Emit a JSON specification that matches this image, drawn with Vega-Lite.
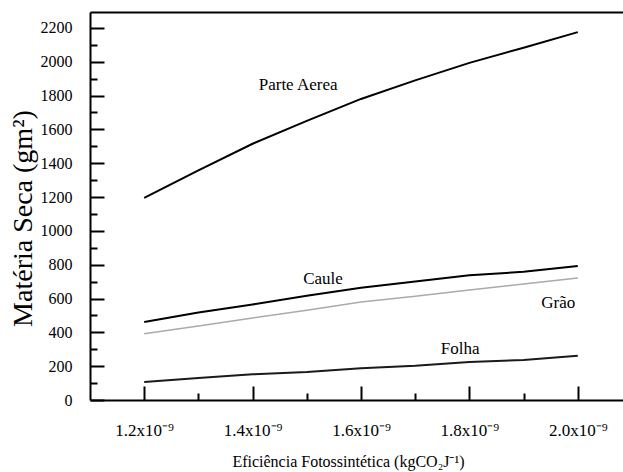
{
  "$schema": "https://vega.github.io/schema/vega-lite/v6.json",
  "width": 533,
  "height": 388,
  "autosize": {"type": "none"},
  "padding": {"left": 90, "top": 12, "right": 0, "bottom": 72},
  "background": "white",
  "config": {"view": {"stroke": null}, "font": "Liberation Serif", "axis": {"grid": false}},
  "datasets": {
    "lines": [
      {"serie": "Parte Aerea", "x": 1.2, "y": 1195},
      {"serie": "Parte Aerea", "x": 1.3, "y": 1357},
      {"serie": "Parte Aerea", "x": 1.4, "y": 1515},
      {"serie": "Parte Aerea", "x": 1.5, "y": 1650},
      {"serie": "Parte Aerea", "x": 1.6, "y": 1780},
      {"serie": "Parte Aerea", "x": 1.7, "y": 1890},
      {"serie": "Parte Aerea", "x": 1.8, "y": 1993},
      {"serie": "Parte Aerea", "x": 1.9, "y": 2083},
      {"serie": "Parte Aerea", "x": 2.0, "y": 2175},
      {"serie": "Caule", "x": 1.2, "y": 461},
      {"serie": "Caule", "x": 1.3, "y": 517},
      {"serie": "Caule", "x": 1.4, "y": 565},
      {"serie": "Caule", "x": 1.5, "y": 617},
      {"serie": "Caule", "x": 1.6, "y": 663},
      {"serie": "Caule", "x": 1.7, "y": 700},
      {"serie": "Caule", "x": 1.8, "y": 737},
      {"serie": "Caule", "x": 1.9, "y": 758},
      {"serie": "Caule", "x": 2.0, "y": 792},
      {"serie": "Grão", "x": 1.2, "y": 391},
      {"serie": "Grão", "x": 1.3, "y": 438},
      {"serie": "Grão", "x": 1.4, "y": 485},
      {"serie": "Grão", "x": 1.5, "y": 531},
      {"serie": "Grão", "x": 1.6, "y": 579},
      {"serie": "Grão", "x": 1.7, "y": 614},
      {"serie": "Grão", "x": 1.8, "y": 650},
      {"serie": "Grão", "x": 1.9, "y": 686},
      {"serie": "Grão", "x": 2.0, "y": 721},
      {"serie": "Folha", "x": 1.2, "y": 107},
      {"serie": "Folha", "x": 1.3, "y": 130},
      {"serie": "Folha", "x": 1.4, "y": 152},
      {"serie": "Folha", "x": 1.5, "y": 166},
      {"serie": "Folha", "x": 1.6, "y": 188},
      {"serie": "Folha", "x": 1.7, "y": 202},
      {"serie": "Folha", "x": 1.8, "y": 224},
      {"serie": "Folha", "x": 1.9, "y": 237},
      {"serie": "Folha", "x": 2.0, "y": 261}
    ],
    "labels": [
      {"label": "Parte Aerea", "x": 1.484, "y": 1864},
      {"label": "Caule", "x": 1.53, "y": 716},
      {"label": "Grão", "x": 1.964, "y": 574},
      {"label": "Folha", "x": 1.783, "y": 302}
    ]
  },
  "layer": [
    {
      "data": {"name": "lines"},
      "transform": [{"filter": "datum.serie === 'Parte Aerea'"}],
      "mark": {"type": "line", "strokeWidth": 2, "color": "#000000"},
      "encoding": {
        "x": {
          "field": "x",
          "type": "quantitative",
          "scale": {"domain": [1.1, 2.0834], "nice": false, "zero": false},
          "axis": {
            "orient": "bottom",
            "values": [1.2, 1.4, 1.6, 1.8, 2.0],
            "ticks": false,
            "tickSize": 0,
            "domainColor": "black",
            "domainWidth": 2,
            "labelExpr": "format(datum.value, '.1f') + 'x10⁻⁹'",
            "labelFont": "Liberation Serif",
            "labelFontSize": 17,
            "labelColor": "black",
            "labelPadding": 22,
            "labelFlush": false,
            "labelOverlap": false,
            "title": "Eficiência Fotossintética (kgCO₂J⁻¹)",
            "titleFont": "Liberation Serif",
            "titleFontSize": 16,
            "titleFontWeight": "normal",
            "titleColor": "black",
            "titleX": 258,
            "titleY": 61,
            "titleBaseline": "middle",
            "titleAlign": "center"
          }
        },
        "y": {
          "field": "y",
          "type": "quantitative",
          "scale": {"domain": [0, 2294], "nice": false},
          "axis": {
            "orient": "left",
            "values": [0, 200, 400, 600, 800, 1000, 1200, 1400, 1600, 1800, 2000, 2200],
            "ticks": false,
            "tickSize": 0,
            "domainColor": "black",
            "domainWidth": 2,
            "labelExpr": "format(datum.value, 'd')",
            "labelFont": "Liberation Serif",
            "labelFontSize": 16,
            "labelColor": "black",
            "labelPadding": 18,
            "labelOverlap": false,
            "labelFlush": false,
            "title": "Matéria Seca (gm²)",
            "titleFont": "Liberation Serif",
            "titleFontSize": 28,
            "titleFontWeight": "normal",
            "titleColor": "black",
            "titleAngle": 270,
            "titleX": -67,
            "titleY": 206,
            "titleBaseline": "middle",
            "titleAlign": "center"
          }
        }
      }
    },
    {
      "data": {"name": "lines"},
      "transform": [{"filter": "datum.serie === 'Caule' || datum.serie === 'Folha'"}],
      "mark": {"type": "line", "strokeWidth": 2},
      "encoding": {
        "x": {
          "field": "x",
          "type": "quantitative",
          "scale": {"domain": [1.1, 2.0834], "nice": false, "zero": false},
          "axis": {"orient": "bottom", "offset": -7, "values": [1.3, 1.5, 1.7, 1.9], "labels": false, "domain": false, "title": null, "tickSize": 7, "tickWidth": 2, "tickColor": "black"}
        },
        "y": {
          "field": "y",
          "type": "quantitative",
          "scale": {"domain": [0, 2294], "nice": false},
          "axis": {"orient": "left", "offset": -7, "values": [100, 300, 500, 700, 900, 1100, 1300, 1500, 1700, 1900, 2100], "labels": false, "domain": false, "title": null, "tickSize": 7, "tickWidth": 2, "tickColor": "black"}
        },
        "color": {
          "field": "serie",
          "type": "nominal",
          "scale": {"domain": ["Caule", "Folha"], "range": ["#000000", "#1a1a1a"]},
          "legend": null
        }
      }
    },
    {
      "data": {"name": "lines"},
      "transform": [{"filter": "datum.serie === 'Grão'"}],
      "mark": {"type": "line", "strokeWidth": 1.5, "color": "#aaaaaa"},
      "encoding": {
        "x": {
          "field": "x",
          "type": "quantitative",
          "scale": {"domain": [1.1, 2.0834], "nice": false, "zero": false},
          "axis": {"orient": "top", "labels": false, "ticks": false, "title": null, "domainColor": "black", "domainWidth": 2}
        },
        "y": {"field": "y", "type": "quantitative", "scale": {"domain": [0, 2294], "nice": false}, "axis": null}
      }
    },
    {
      "data": {"name": "labels"},
      "mark": {"type": "text", "font": "Liberation Serif", "fontSize": 17, "color": "black", "align": "center", "baseline": "middle"},
      "encoding": {
        "x": {
          "field": "x",
          "type": "quantitative",
          "scale": {"domain": [1.1, 2.0834], "nice": false, "zero": false},
          "axis": {"orient": "bottom", "offset": -14, "values": [1.2, 1.4, 1.6, 1.8, 2.0], "labels": false, "domain": false, "title": null, "tickSize": 14, "tickWidth": 2, "tickColor": "black"}
        },
        "y": {
          "field": "y",
          "type": "quantitative",
          "scale": {"domain": [0, 2294], "nice": false},
          "axis": {"orient": "left", "offset": -14, "values": [0, 200, 400, 600, 800, 1000, 1200, 1400, 1600, 1800, 2000, 2200], "labels": false, "domain": false, "title": null, "tickSize": 14, "tickWidth": 2, "tickColor": "black"}
        },
        "text": {"field": "label"}
      }
    }
  ],
  "resolve": {"axis": {"x": "independent", "y": "independent"}}
}
